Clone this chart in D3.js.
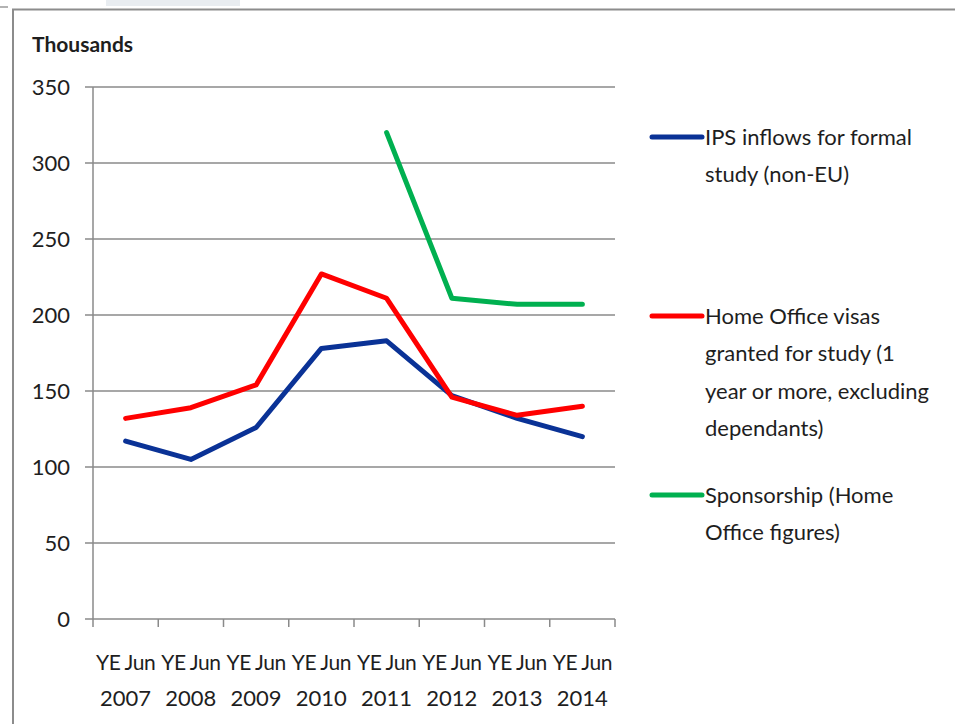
<!DOCTYPE html>
<html>
<head>
<meta charset="utf-8">
<script src="https://cdn.jsdelivr.net/npm/d3@7"></script>
<style>
  html, body { margin: 0; padding: 0; background: #fff; }
  svg { display: block; }
  text { font-family: Lato, "Noto Sans", sans-serif; fill: #1e1e1e; }
</style>
</head>
<body>
<div id="chart"></div>
<script>
// Datos del gráfico
const categories = ['2007', '2008', '2009', '2010', '2011', '2012', '2013', '2014'];
const ipsInflows = [117, 105, 126, 178, 183, 147, 132, 120];
const homeOfficeVisas = [132, 139, 154, 227, 211, 146, 134, 140];
const sponsorship = [null, null, null, null, 320, 211, 207, 207];
const yTicks = [0, 50, 100, 150, 200, 250, 300, 350];

const seriesNames = [
    ['IPS inflows for formal', 'study (non-EU)'],
    ['Home Office visas', 'granted for study (1', 'year or more, excluding', 'dependants)'],
    ['Sponsorship (Home', 'Office figures)']
];
const seriesValues = [ipsInflows, homeOfficeVisas, sponsorship];
const seriesColors = ['#0a3296', '#ff0000', '#00b050'];

const width = 955, height = 724;
const gridColor = '#8a8a8a';

const svg = d3.select('#chart')
    .append('svg')
    .attr('width', width)
    .attr('height', height);

// Marco exterior
svg.append('rect')
    .attr('x', 106).attr('y', 0)
    .attr('width', 134).attr('height', 6)
    .attr('fill', '#e9edf1');
svg.append('line')
    .attr('x1', 0).attr('x2', 8).attr('y1', 7).attr('y2', 7)
    .attr('stroke', '#9a9a9a').attr('stroke-width', 1.5);
svg.append('path')
    .attr('d', 'M13,' + height + 'V9.5H' + width)
    .attr('fill', 'none')
    .attr('stroke', '#8c8c8c')
    .attr('stroke-width', 2);

// Escalas
const x = d3.scaleBand()
    .domain(categories)
    .range([93, 615]);

const y = d3.scaleLinear()
    .domain([0, 350])
    .range([619, 87]);

// Líneas de cuadrícula
svg.append('g')
    .selectAll('line')
    .data(yTicks.filter(d => d > 0))
    .join('line')
    .attr('x1', x.range()[0])
    .attr('x2', x.range()[1])
    .attr('y1', d => y(d))
    .attr('y2', d => y(d))
    .attr('stroke', gridColor)
    .attr('stroke-width', 1.5);

// Eje Y
svg.append('line')
    .attr('x1', x.range()[0]).attr('x2', x.range()[0])
    .attr('y1', y(0)).attr('y2', y(350))
    .attr('stroke', gridColor).attr('stroke-width', 1.5);

svg.append('g')
    .selectAll('line')
    .data(yTicks)
    .join('line')
    .attr('x1', x.range()[0] - 8)
    .attr('x2', x.range()[0])
    .attr('y1', d => y(d))
    .attr('y2', d => y(d))
    .attr('stroke', gridColor)
    .attr('stroke-width', 1.5);

svg.append('g')
    .selectAll('text')
    .data(yTicks)
    .join('text')
    .attr('x', 70)
    .attr('y', d => y(d))
    .attr('dy', '0.35em')
    .attr('text-anchor', 'end')
    .style('font-size', '22px')
    .text(d => d);

// Eje X
svg.append('line')
    .attr('x1', x.range()[0]).attr('x2', x.range()[1])
    .attr('y1', y(0)).attr('y2', y(0))
    .attr('stroke', gridColor).attr('stroke-width', 1.5);

const edges = categories.map(c => x(c)).concat([x.range()[1]]);
svg.append('g')
    .selectAll('line')
    .data(edges)
    .join('line')
    .attr('x1', d => d).attr('x2', d => d)
    .attr('y1', y(0)).attr('y2', y(0) + 8)
    .attr('stroke', gridColor)
    .attr('stroke-width', 1.5);

const xLabels = svg.append('g')
    .selectAll('text')
    .data(categories)
    .join('text')
    .attr('text-anchor', 'middle')
    .style('font-size', '21px');
xLabels.append('tspan')
    .attr('x', d => x(d) + x.bandwidth() / 2)
    .attr('y', 670)
    .style('letter-spacing', '-0.5px')
    .text('YE Jun');
xLabels.append('tspan')
    .attr('x', d => x(d) + x.bandwidth() / 2)
    .attr('y', 706)
    .style('font-size', '22px')
    .text(d => d);

// Título del eje
svg.append('text')
    .attr('x', 32)
    .attr('y', 52)
    .style('font-size', '21px')
    .style('font-weight', 'bold')
    .text('Thousands');

// Líneas de datos
const line = d3.line()
    .defined(d => d != null)
    .x((d, i) => x(categories[i]) + x.bandwidth() / 2)
    .y(d => y(d));

seriesValues.forEach((values, k) => {
    svg.append('path')
        .datum(values)
        .attr('fill', 'none')
        .attr('stroke', seriesColors[k])
        .attr('stroke-width', 5)
        .attr('stroke-linejoin', 'round')
        .attr('stroke-linecap', 'round')
        .attr('d', line);
});

// Leyenda
const legendTop = [137, 316, 495];
seriesNames.forEach((lines, k) => {
    const g = svg.append('g');
    g.append('line')
        .attr('x1', 652).attr('x2', 702)
        .attr('y1', legendTop[k]).attr('y2', legendTop[k])
        .attr('stroke', seriesColors[k])
        .attr('stroke-width', 5)
        .attr('stroke-linecap', 'round');
    g.append('text')
        .style('font-size', '22px')
        .selectAll('tspan')
        .data(lines)
        .join('tspan')
        .attr('x', 705)
        .attr('y', (d, i) => legendTop[k] + i * 37.5)
        .attr('dy', '0.35em')
        .text(d => d);
});
</script>
</body>
</html>
